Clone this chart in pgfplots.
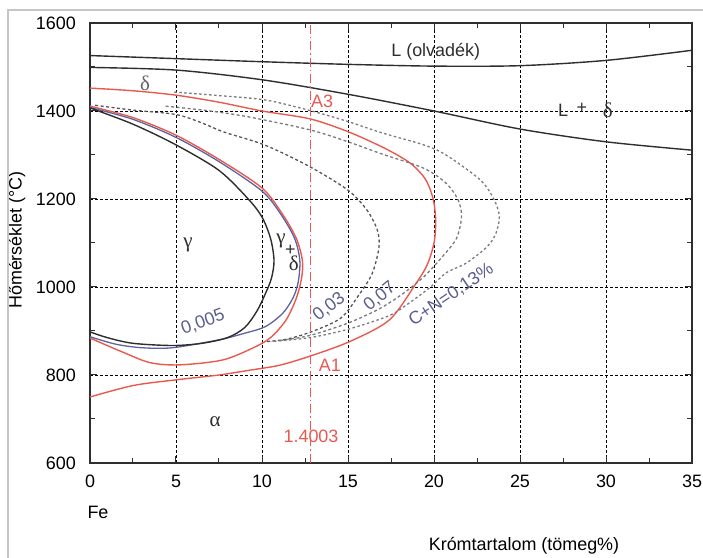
\documentclass[border=0pt]{standalone}
\usepackage{pgfplots}
\pgfplotsset{compat=1.18}
\usepackage{fontspec}
\setmainfont{Liberation Sans}
\newfontfamily\grk{Liberation Serif}
\newcommand{\gk}{\grk\fontsize{21}{24}\selectfont}
\definecolor{cred}{HTML}{E85A50}
\definecolor{cblue}{HTML}{5C64A0}
\definecolor{cgray}{HTML}{7A7A80}
\definecolor{clab}{HTML}{5A5E8E}
\definecolor{cblk}{HTML}{2E2E2E}
\begin{document}
\fontsize{18}{21}\selectfont
\begin{tikzpicture}
\begin{axis}[
  at={(0,0)}, anchor=south west,
  scale only axis, width=602bp, height=440bp,
  xmin=0, xmax=35, ymin=600, ymax=1600,
  xtick={0,5,...,35}, ytick={600,800,...,1600},
  minor xtick={2.5,7.5,...,32.5}, minor ytick={700,900,...,1500},
  grid=major,
  major grid style={black, line width=0.8bp, dash pattern=on 3bp off 2bp},
  axis line style={line width=1.2bp, cblk},
  major tick length=7bp, minor tick length=5bp,
  tick style={cblk, line width=1bp},
  ticklabel style={font=\fontsize{18}{21}\selectfont},
  /pgf/number format/assume math mode=true,
  /pgf/number format/set thousands separator={},
  yticklabel style={xshift=-8bp},
  xticklabel style={yshift=-6bp},
  clip=false,
]
% liquidus
\addplot[cblk, line width=1.4bp, smooth] coordinates {(0,1526)(5,1519)(10,1512)(15,1506)(20,1502)(25,1503)(30,1515)(35,1538)};
% solidus
\addplot[cblk, line width=1.4bp, smooth] coordinates {(0,1499)(5,1493)(10,1471)(15,1438)(20,1400)(25,1359)(30,1330)(35,1311)};
% red outer loop A3 / A1
\addplot[cred, line width=1.4bp, smooth, tension=0.5] coordinates {(0,1452)(2.5,1446)(5,1436)(7.5,1420)(10,1400)(12.8,1382)(15,1353)(17.1,1316)(18.6,1282)(19.5,1245)(19.95,1200)(20.1,1150)(20.0,1100)(19.6,1050)(18.9,1005)(17.4,925)(15.1,876)(12.8,843)(11,822)(9.3,811)(7.5,800)(5,789)(2.5,776)(0,750)};
% red inner loop
\addplot[cred, line width=1.4bp, smooth, tension=0.5] coordinates {(0,1411)(2.5,1385)(5,1345)(7.5,1290)(10,1225)(11.2,1165)(12.0,1110)(12.35,1060)(12.3,1020)(12.0,975)(11.4,925)(10.5,885)(9.5,862)(7.7,834)(5.2,823)(3.5,828)(1.9,852)(0,884)};
% blue 0.005
\addplot[cblue, line width=1.3bp, smooth, tension=0.5] coordinates {(0,1408)(2.5,1381)(5,1340)(7.5,1285)(10,1218)(11.1,1165)(11.9,1110)(12.2,1060)(12.1,1010)(11.8,975)(11.2,940)(10.2,910)(9,895)(7.5,880)(4.8,862)(3,862)(1.5,870)(0,887)};
% black gamma loop
\addplot[cblk, line width=1.4bp, smooth, tension=0.5] coordinates {(0,1407)(2.5,1370)(5,1323)(7.5,1265)(9.2,1200)(10,1159)(10.5,1110)(10.7,1060)(10.55,1020)(10.2,985)(9.7,945)(9,908)(8,885)(6.5,872)(4.8,867)(2.5,872)(1,885)(0,898)};
% dashed 0.03
\addplot[cgray!70!black, line width=1.3bp, dash pattern=on 3bp off 2.5bp, smooth, tension=0.5] coordinates {(0.3,1413)(2.5,1402)(5,1392)(6.5,1373)(7.8,1352)(10.2,1322)(12.8,1273)(15,1220)(16.1,1175)(16.7,1130)(16.8,1090)(16.4,1030)(15.6,980)(14.6,930)(13,900)(11.5,882)(10.3,876)};
% dashed 0.07
\addplot[cgray, line width=1.3bp, dash pattern=on 3bp off 2.5bp, smooth, tension=0.5] coordinates {(4.4,1411)(7,1400)(9.3,1386)(12.8,1357)(15,1330)(17,1302)(19.4,1270)(20.7,1236)(21.4,1198)(21.6,1160)(21.3,1110)(20.4,1065)(19.4,1023)(18.2,985)(16.8,950)(15,918)(12.8,890)(11,878)};
% dashed 0.13
\addplot[cgray, line width=1.3bp, dash pattern=on 2.5bp off 2.5bp, smooth, tension=0.5] coordinates {(4.9,1443)(7.5,1435)(10.2,1425)(12.8,1401)(15,1376)(17,1350)(19.4,1323)(20.7,1300)(22.7,1243)(23.5,1198)(23.8,1160)(23.6,1122)(23.1,1092)(21.9,1055)(20.7,1032)(19.8,1000)(18.5,962)(17.4,935)(15.1,905)(12.8,885)(10.5,876)};
% steel grade line
\addplot[cred, line width=1.2bp, dash pattern=on 9bp off 3bp on 1.5bp off 3bp] coordinates {(12.8,600)(12.8,1600)};
% labels
\node[cblk] at (axis cs:20.1,1535) {L (olvadék)};
\node[cblk] at (axis cs:27.5,1402) {L};
\node[cblk] at (axis cs:28.6,1405) {+};
\node[cblk] at (axis cs:30.1,1402) {\gk δ};
\node[cgray!80!black] at (axis cs:3.2,1463) {\gk δ};
\node[cred] at (axis cs:13.5,1421) {A3};
\node[cred] at (axis cs:13.95,823) {A1};
\node[cred] at (axis cs:12.85,661) {1.4003};
\node[cblk] at (axis cs:5.7,1095) {\gk γ};
\node[cblk] at (axis cs:7.27,694) {\gk α};
\node[cblk, inner sep=0pt] at (axis cs:11.1,1105) {\gk γ};
\node[cblk, inner sep=0pt] at (axis cs:11.65,1083) {+};
\node[cblk, inner sep=0pt] at (axis cs:11.85,1054) {\gk δ};
\node[clab, rotate=20] at (axis cs:6.57,920) {0,005};
\node[clab, rotate=38, inner sep=0pt] at (axis cs:13.9,955) {0,03};
\node[clab, rotate=39, inner sep=0pt] at (axis cs:16.85,978) {0,07};
\node[clab, rotate=34, inner sep=0pt] at (axis cs:21.0,982) {C+N=0,13\%};
\end{axis}
\node[rotate=90] at (-73bp,223bp) {Hőmérséklet (°C)};
\node at (8bp,-49bp) {Fe};
\node at (434bp,-83bp) {Krómtartalom (tömeg\%)};
\draw[gray!45, line width=1.5bp] (-82bp,-95bp) -- (-82bp,453bp) -- (613bp,453bp);
\pgfresetboundingbox
\useasboundingbox (-90bp,-95bp) rectangle (613bp,463bp);
\end{tikzpicture}
\end{document}
